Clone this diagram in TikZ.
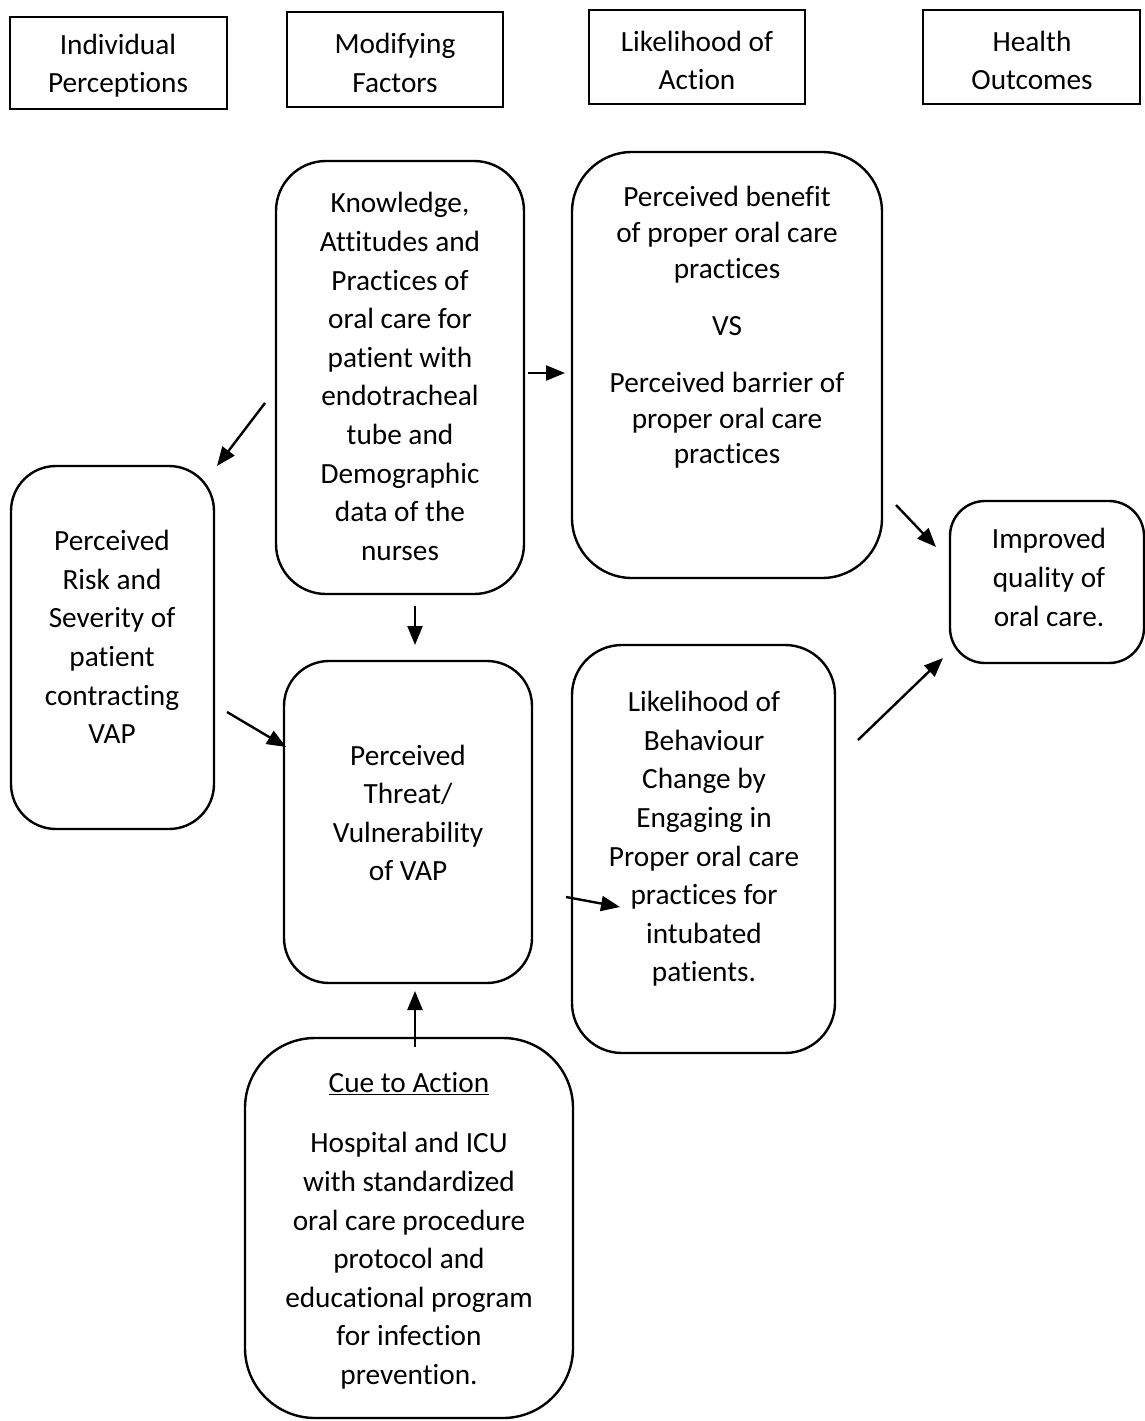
\documentclass[tikz,border=0pt]{standalone}
\usepackage{fontspec}
\setmainfont{Carlito}[Ligatures={NoCommon,NoContextual,NoRare},RawFeature=-liga,RawFeature=-clig,RawFeature=-calt,RawFeature=-dlig]
\usetikzlibrary{arrows.meta}
\begin{document}
\begin{tikzpicture}[x=1pt,y=-1pt,
  hdr/.style={draw,line width=2pt,inner sep=0pt},
  rbox/.style={draw,line width=2.4pt,inner sep=0pt},
  txt/.style={align=center,inner sep=0pt,font=\fontsize{29.3}{38.6}\selectfont},
  arr/.style={line width=2.4pt,-{Triangle[length=19pt,width=15pt]}}]
\useasboundingbox (0,0) rectangle (1145,1421);
% header boxes
\node[hdr,minimum width=217,minimum height=92] (h1) at (118.5,63) {};
\node[txt] (t1) at (118,65.5) {Individual\\Perceptions};
\node[hdr,minimum width=216,minimum height=95] (h2) at (395,59.5) {};
\node[txt] (t2) at (395,63) {Modifying\\Factors};
\node[hdr,minimum width=216,minimum height=94] (h3) at (697,57) {};
\node[txt] (t3) at (697,60.5) {Likelihood of\\Action};
\node[hdr,minimum width=217,minimum height=94] (h4) at (1031.5,57) {};
\node[txt] (t4) at (1032,60.5) {Health\\Outcomes};
% rounded boxes
\node[rbox,rounded corners=50,minimum width=248,minimum height=433] (A) at (400,377.5) {};
\node[txt] (tA) at (400,376.5) {Knowledge,\\Attitudes and\\Practices of\\oral care for\\patient with\\endotracheal\\tube and\\Demographic\\data of the\\nurses};
\node[rbox,rounded corners=60,minimum width=310,minimum height=426] (B) at (727,365) {};
\node[txt,font=\fontsize{29.3}{35.7}\selectfont] (tB) at (727,327.5) {Perceived benefit\\of proper oral care\\practices\\[21.3pt]VS\\[21.3pt]Perceived barrier of\\proper oral care\\practices};
\node[rbox,rounded corners=45,minimum width=203,minimum height=363] (C) at (112.5,647.5) {};
\node[txt] (tC) at (112,637) {Perceived\\Risk and\\Severity of\\patient\\contracting\\VAP};
\node[rbox,rounded corners=45,minimum width=248,minimum height=322] (D) at (408,822) {};
\node[txt] (tD) at (408,813) {Perceived\\Threat/\\Vulnerability\\of VAP};
\node[rbox,rounded corners=50,minimum width=263,minimum height=408] (E) at (703.5,849) {};
\node[txt] (tE) at (704,839) {Likelihood of\\Behaviour\\Change by\\Engaging in\\Proper oral care\\practices for\\intubated\\patients.};
\node[rbox,rounded corners=35,minimum width=194,minimum height=162] (F) at (1047,582) {};
\node[txt] (tF) at (1049,577.5) {Improved\\quality of\\oral care.};
\node[rbox,rounded corners=70,minimum width=328,minimum height=380] (G) at (409,1228) {};
\node[txt] (tG) at (409,1231) {\underline{Cue to Action}\\[21.4pt]Hospital and ICU\\with standardized\\oral care procedure\\protocol and\\educational program\\for infection\\prevention.};
% arrow end points
\coordinate (a1s) at (265,403); \coordinate (a1e) at (217,466);
\coordinate (a2s) at (528,373); \coordinate (a2e) at (565,373);
\coordinate (a3s) at (415,606); \coordinate (a3e) at (415,645);
\coordinate (a4s) at (227,712); \coordinate (a4e) at (286,747);
\coordinate (a5s) at (896,505); \coordinate (a5e) at (936,547);
\coordinate (a6s) at (858,740); \coordinate (a6e) at (943,658);
\coordinate (a7s) at (566,897); \coordinate (a7e) at (620,907);
\coordinate (a8s) at (415,1047); \coordinate (a8e) at (415,991);
\draw[arr] (a1s) -- (a1e);
\draw[arr] (a2s) -- (a2e);
\draw[arr] (a3s) -- (a3e);
\draw[arr] (a4s) -- (a4e);
\draw[arr] (a5s) -- (a5e);
\draw[arr] (a6s) -- (a6e);
\draw[arr] (a7s) -- (a7e);
\draw[arr] (a8s) -- (a8e);
\end{tikzpicture}
\end{document}
